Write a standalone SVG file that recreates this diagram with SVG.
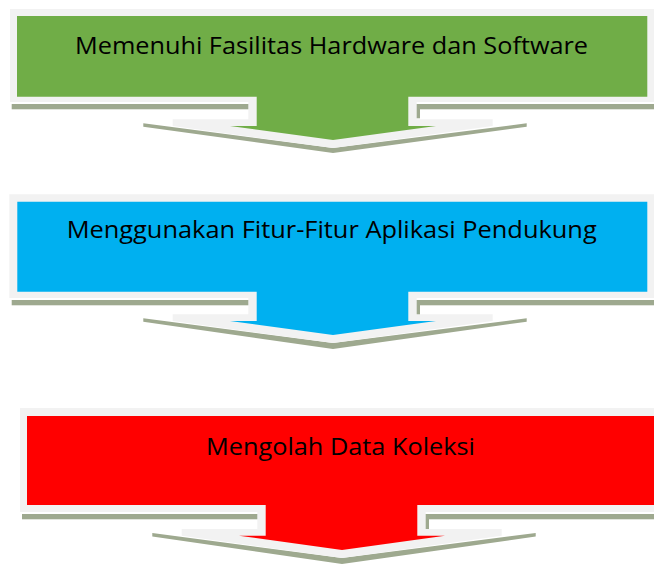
<svg xmlns="http://www.w3.org/2000/svg" width="654" height="567" viewBox="0 0 654 567">
<style>
.shadow{fill:#9EA98F}
.rim{fill:#F2F2F2}
.lbl{font-family:"Open Sans","Liberation Sans",sans-serif;font-size:24px;fill:#000;text-anchor:middle}
</style>
<rect width="654" height="567" fill="#FFFFFF"/>
<g id="node1">
<rect class="shadow" x="11.7" y="104" width="642.3" height="5.3"/>
<rect class="shadow" x="416" y="104" width="4" height="14.3"/>
<path class="shadow" d="M143.3,123.3 L333,148 L526.7,123.3 V126.7 L333,153 L143.3,126.7 Z"/>
<path class="rim" d="M10,9 H654 V102 H416.7 V119.3 H492.7 V126 L333,148 L172.7,126 V119.3 H248.3 V102 H10 Z"/>
<path fill="#70AD47" d="M17,16 H647.3 V96.7 H408.3 V126 H436 L333,140 L230,126 H256.7 V96.7 H17 Z"/>
<text class="lbl" x="331.5" y="53.5" textLength="513" lengthAdjust="spacingAndGlyphs">Memenuhi Fasilitas Hardware dan Software</text>
</g>
<g id="node2">
<rect class="shadow" x="11.7" y="300" width="642.3" height="5.3"/>
<rect class="shadow" x="416" y="300" width="4" height="15"/>
<path class="shadow" d="M143.3,318.3 L333,343 L526.7,318.3 V321.7 L333,349 L143.3,321.7 Z"/>
<path class="rim" d="M9.3,194.3 H654 V298 H416.7 V314.3 H492.7 V321 L333,343 L172.7,321 V314.3 H248.3 V298 H9.3 Z"/>
<path fill="#00B0F0" d="M17.3,201.7 H647.3 V291.7 H408.3 V321 H436 L333,335 L230,321 H256.7 V291.7 H17.3 Z"/>
<text class="lbl" x="331.7" y="238.3" textLength="530" lengthAdjust="spacingAndGlyphs">Menggunakan Fitur-Fitur Aplikasi Pendukung</text>
</g>
<g id="node3">
<rect class="shadow" x="22" y="514" width="632" height="5.3"/>
<rect class="shadow" x="425" y="514" width="4" height="15"/>
<path class="shadow" d="M152.3,533 L342,558 L535.7,533 V536.5 L342,564 L152.3,536.5 Z"/>
<path class="rim" d="M20,408 H654 V512 H425.7 V529 H501.7 V535.7 L342,558 L181.7,535.7 V529 H257.3 V512 H20 Z"/>
<path fill="#FF0000" d="M27,416 H654 V505 H417.3 V535.7 H445 L342,550 L239,535.7 H265.7 V505 H27 Z"/>
<text class="lbl" x="340.5" y="455" textLength="269" lengthAdjust="spacingAndGlyphs">Mengolah Data Koleksi</text>
</g>
<g id="connectors"></g>
</svg>
